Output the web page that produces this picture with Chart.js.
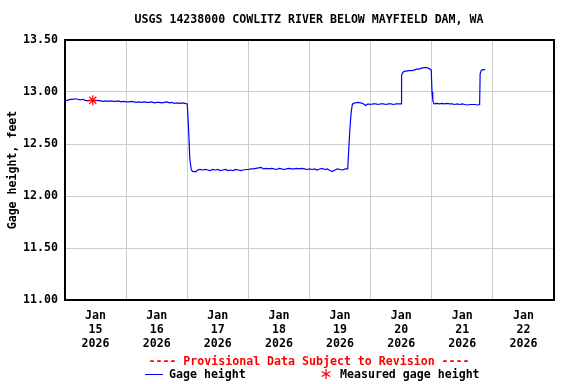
<!DOCTYPE html>
<html>
<head>
<meta charset="utf-8">
<script src="https://cdn.jsdelivr.net/npm/chart.js@4/dist/chart.umd.min.js"></script>
<style>
  html, body { margin: 0; padding: 0; background: #fff; }
  #wrap { width: 576px; height: 384px; position: relative; }
</style>
</head>
<body>
<div id="wrap"><canvas id="gageChart" width="576" height="384"></canvas></div>
<script>
// hours since Jan 15 2026 00:00 and gage height (ft)
const hours = [
  0, 1, 2, 3, 4, 5, 6, 7, 8, 9, 10, 11, 12, 13, 14, 15, 16, 17, 18, 19, 20, 21, 22, 23,
  24, 25, 26, 27, 28, 29, 30, 31, 32, 33, 34, 35, 36, 37, 38, 39, 40, 41, 42, 43, 44, 45, 46, 47,
  48, 48.5, 49, 49.6, 50.2, 51.5, 52,
  53, 54, 55, 56, 57, 58, 59, 60, 61, 62, 63, 64, 65, 66, 67, 68, 69, 70, 71,
  72, 73, 74, 75, 76, 77, 78, 79, 80, 81, 82, 83, 84, 85, 86, 87, 88, 89, 90, 91, 92, 93, 94, 95,
  96, 97, 98, 99, 100, 101, 102, 103, 104, 105, 106, 107, 108, 109, 110, 111,
  111.4, 111.8, 112.3, 112.8, 113, 114, 115, 116, 117, 118, 119,
  120, 121, 122, 123, 124, 125, 126, 127, 128, 129, 130, 131, 132,
  132.15, 132.7, 133.4, 134, 135, 136, 137, 138, 139, 140, 141, 142, 143, 143.8,
  144.1, 144.4, 144.8, 145, 146, 147, 148, 149, 150, 151, 152, 153, 154, 155, 156, 157, 158, 159, 160, 161, 162, 162.8,
  163, 163.4, 164, 165
];
const gageHeight = [
  12.92, 12.92, 12.93, 12.93, 12.935, 12.93, 12.925, 12.93, 12.92, 12.915, 12.92, 12.92, 12.915, 12.92, 12.915, 12.91, 12.915, 12.91, 12.915, 12.91, 12.91, 12.915, 12.905, 12.91,
  12.905, 12.905, 12.91, 12.905, 12.9, 12.905, 12.9, 12.905, 12.9, 12.9, 12.905, 12.895, 12.9, 12.9, 12.895, 12.9, 12.905, 12.895, 12.9, 12.89, 12.895, 12.89, 12.895, 12.89,
  12.885, 12.66, 12.36, 12.25, 12.235, 12.235, 12.25,
  12.255, 12.25, 12.255, 12.25, 12.245, 12.255, 12.25, 12.255, 12.245, 12.25, 12.255, 12.245, 12.25, 12.245, 12.255, 12.25, 12.245, 12.25, 12.255,
  12.255, 12.26, 12.26, 12.265, 12.27, 12.275, 12.26, 12.265, 12.26, 12.265, 12.26, 12.255, 12.265, 12.26, 12.255, 12.26, 12.265, 12.26, 12.26, 12.265, 12.26, 12.265, 12.26, 12.255,
  12.26, 12.255, 12.26, 12.25, 12.26, 12.265, 12.255, 12.26, 12.245, 12.235, 12.25, 12.26, 12.255, 12.25, 12.26, 12.26,
  12.44, 12.62, 12.79, 12.88, 12.89, 12.895, 12.9, 12.895, 12.89, 12.87, 12.885,
  12.88, 12.885, 12.885, 12.88, 12.885, 12.885, 12.88, 12.885, 12.885, 12.88, 12.885, 12.885, 12.885,
  13.16, 13.19, 13.2, 13.2, 13.205, 13.205, 13.21, 13.22, 13.22, 13.23, 13.235, 13.235, 13.225, 13.21,
  13.0, 12.92, 12.89, 12.885, 12.89, 12.885, 12.89, 12.885, 12.89, 12.885, 12.885, 12.88, 12.885, 12.88, 12.885, 12.88, 12.875, 12.88, 12.88, 12.88, 12.875, 12.88,
  13.175, 13.205, 13.215, 13.215
];

const measuredHours = [10.9];
const measuredHeight = [12.92];

const dayLabels = ['15', '16', '17', '18', '19', '20', '21', '22'];
const monthLabel = 'Jan';
const yearLabel = '2026';
const yTicks = [11.0, 11.5, 12.0, 12.5, 13.0, 13.5];

const titleText = 'USGS 14238000 COWLITZ RIVER BELOW MAYFIELD DAM, WA';
const provisionalText = '---- Provisional Data Subject to Revision ----';

const FONT = '"DejaVu Sans Mono", "Liberation Mono", monospace';
const font = { family: FONT, size: 11.6, weight: 'bold' };

const linePoints = hours.map((h, i) => ({ x: h, y: gageHeight[i] }));
const measuredPoints = measuredHours.map((h, i) => ({ x: h, y: measuredHeight[i] }));

const midnightTicks = dayLabels.slice(1).map((d, i) => (i + 1) * 24);
const noonTicks = dayLabels.map((d, i) => i * 24 + 12);

const framePlugin = {
  id: 'frame',
  afterDraw(chart) {
    const { ctx, chartArea: a } = chart;
    ctx.save();
    ctx.strokeStyle = '#000';
    ctx.lineWidth = 2;
    ctx.strokeRect(a.left, a.top, a.right - a.left, a.bottom - a.top);

    ctx.font = `bold 11.6px ${FONT}`;
    ctx.textBaseline = 'middle';
    ctx.textAlign = 'center';
    ctx.fillStyle = '#000';
    ctx.fillText(titleText, 309, 19.5);

    ctx.fillStyle = '#ff0000';
    ctx.fillText(provisionalText, 309, 361.5);

    // legend
    ctx.textAlign = 'left';
    ctx.strokeStyle = '#0000ff';
    ctx.lineWidth = 1;
    ctx.beginPath();
    ctx.moveTo(145, 374.5);
    ctx.lineTo(163, 374.5);
    ctx.stroke();
    ctx.fillStyle = '#000';
    ctx.fillText('Gage height', 169, 375);

    ctx.strokeStyle = '#ff0000';
    ctx.lineWidth = 1.2;
    const cx = 326, cy = 374, r = 5;
    ctx.beginPath();
    for (let k = 0; k < 3; k++) {
      const ang = Math.PI / 2 + k * Math.PI / 3;
      ctx.moveTo(cx + r * Math.cos(ang), cy + r * Math.sin(ang));
      ctx.lineTo(cx - r * Math.cos(ang), cy - r * Math.sin(ang));
    }
    ctx.stroke();
    ctx.fillText('Measured gage height', 340, 375);
    ctx.restore();
  }
};

new Chart(document.querySelector('#gageChart'), {
  type: 'line',
  data: {
    datasets: [
      {
        label: 'Gage height',
        data: linePoints,
        borderColor: '#0000ff',
        borderWidth: 1.2,
        pointRadius: 0,
        tension: 0,
        xAxisID: 'x',
        order: 2
      },
      {
        label: 'Measured gage height',
        type: 'scatter',
        data: measuredPoints,
        pointStyle: 'star',
        pointRadius: 5,
        borderColor: '#ff0000',
        backgroundColor: '#ff0000',
        borderWidth: 1.2,
        xAxisID: 'x',
        order: 1
      }
    ]
  },
  options: {
    responsive: false,
    animation: false,
    layout: { padding: { top: 40, right: 22, bottom: 0, left: 0 } },
    plugins: {
      legend: { display: false },
      title: { display: false },
      tooltip: { enabled: false }
    },
    scales: {
      x: {
        type: 'linear',
        position: 'bottom',
        min: 0,
        max: 192,
        afterBuildTicks: (scale) => { scale.ticks = midnightTicks.map((v) => ({ value: v })); },
        afterFit: (scale) => { scale.height = 0; },
        ticks: { display: false },
        grid: { color: '#cccccc', lineWidth: 1, drawTicks: false },
        border: { display: false }
      },
      xLabels: {
        type: 'linear',
        position: 'bottom',
        min: 0,
        max: 192,
        afterBuildTicks: (scale) => { scale.ticks = noonTicks.map((v) => ({ value: v })); },
        afterFit: (scale) => { scale.height = 84; },
        ticks: {
          font,
          color: '#000',
          padding: 9,
          maxRotation: 0,
          autoSkip: false,
          callback: (v) => [monthLabel, dayLabels[Math.round((v - 12) / 24)], yearLabel]
        },
        grid: { display: false, drawTicks: false },
        border: { display: false }
      },
      y: {
        min: 11,
        max: 13.5,
        afterBuildTicks: (scale) => { scale.ticks = yTicks.map((v) => ({ value: v })); },
        afterFit: (scale) => { scale.width = 65; },
        ticks: {
          font,
          color: '#000',
          padding: 7,
          callback: (v) => v.toFixed(2)
        },
        grid: { color: '#cccccc', lineWidth: 1, drawTicks: false },
        border: { display: false },
        title: {
          display: true,
          text: 'Gage height, feet',
          font,
          color: '#000',
          padding: { top: 6, bottom: 0 }
        }
      }
    }
  },
  plugins: [framePlugin]
});
</script>
</body>
</html>
